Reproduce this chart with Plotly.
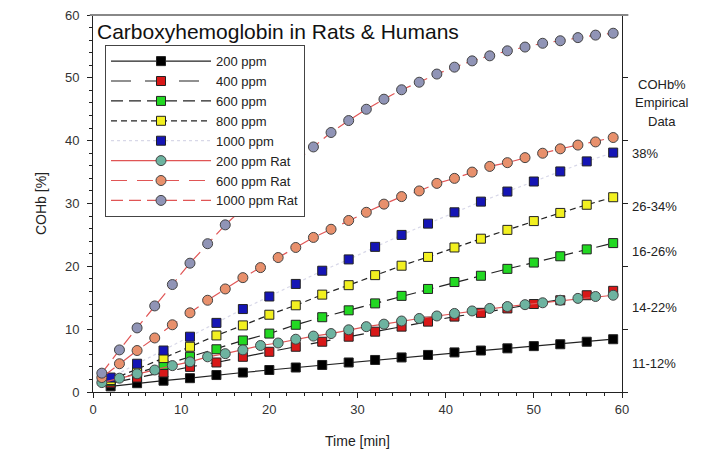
import plotly.graph_objects as go

# ---------------- data ----------------
t_human = [2, 5, 8, 11, 14, 17, 20, 23, 26, 29, 32, 35, 38, 41, 44, 47, 50, 53, 56, 59]
t_rat = list(range(1, 60, 2))

ppm200 = [0.9, 1.4, 1.8, 2.2, 2.7, 3.1, 3.5, 3.9, 4.3, 4.7, 5.1, 5.5, 5.9, 6.3, 6.6, 6.95, 7.3, 7.6, 8.0, 8.4]
ppm400 = [1.4, 2.3, 3.1, 4.0, 4.7, 5.6, 6.4, 7.2, 8.0, 8.8, 9.6, 10.4, 11.2, 12.0, 12.6, 13.3, 14.0, 14.6, 15.4, 16.1]
ppm600 = [1.7, 3.0, 4.3, 5.6, 6.8, 8.2, 9.3, 10.7, 11.9, 13.0, 14.1, 15.3, 16.4, 17.5, 18.5, 19.6, 20.6, 21.6, 22.7, 23.7]
ppm800 = [1.9, 3.6, 5.4, 7.2, 9.0, 10.6, 12.3, 13.8, 15.5, 17.0, 18.6, 20.1, 21.5, 23.0, 24.4, 25.8, 27.2, 28.5, 29.8, 31.0]
ppm1000 = [2.3, 4.5, 6.6, 8.8, 11.0, 13.2, 15.2, 17.2, 19.3, 21.1, 23.1, 25.0, 26.8, 28.6, 30.3, 31.9, 33.5, 35.1, 36.7, 38.1]

rat200 = [1.5, 2.2, 2.9, 3.5, 4.2, 4.8, 5.6, 6.1, 6.7, 7.4, 7.8, 8.4, 8.9, 9.3, 9.9,
          10.4, 10.8, 11.3, 11.7, 12.1, 12.5, 12.9, 13.3, 13.6, 13.9, 14.2, 14.6, 14.9, 15.2, 15.4]
rat600 = [2.3, 4.5, 6.6, 8.6, 10.7, 12.6, 14.6, 16.4, 18.2, 19.8, 21.4, 23.0, 24.6, 25.9, 27.3,
          28.6, 29.9, 31.1, 32.0, 33.2, 34.0, 35.0, 35.9, 36.5, 37.3, 38.0, 38.7, 39.3, 39.8, 40.5]
rat1000 = [3.0, 6.7, 10.2, 13.7, 17.1, 20.5, 23.6, 26.6, 29.2, 31.8, 34.3, 36.7, 39.0, 41.3, 43.2,
           45.0, 46.6, 48.1, 49.3, 50.6, 51.7, 52.7, 53.5, 54.3, 54.9, 55.5, 55.9, 56.4, 56.8, 57.1]

empirical_header = ["COHb%", "Empirical", "Data"]
empirical_header_y = [49.0, 46.0, 43.0]
empirical_labels = ["38%", "26-34%", "16-26%", "14-22%", "11-12%"]
empirical_y = [38.0, 29.5, 22.3, 13.4, 4.6]

x_ticks = [0, 10, 20, 30, 40, 50, 60]
y_ticks = [0, 10, 20, 30, 40, 50, 60]

FONT = "Arial, Liberation Sans, sans-serif"

fig = go.Figure()

def human(name, y, fill, dash, lcolor="#222222"):
    fig.add_trace(go.Scatter(
        x=t_human, y=y, name=name, mode="lines+markers",
        line=dict(color=lcolor, width=1.2, dash=dash),
        marker=dict(symbol="square", size=9, color=fill,
                    line=dict(color="#222222", width=1)),
    ))

def rat(name, y, fill, dash):
    fig.add_trace(go.Scatter(
        x=t_rat, y=y, name=name, mode="lines+markers",
        line=dict(color="#e05555", width=1.2, dash=dash),
        marker=dict(symbol="circle", size=10, color=fill,
                    line=dict(color="#444444", width=1)),
    ))

human("200 ppm", ppm200, "#000000", "solid")
human("400 ppm", ppm400, "#d81818", "20px,14px")
human("600 ppm", ppm600, "#22d822", "12px,6px")
human("800 ppm", ppm800, "#f2f020", "6px,4px")
human("1000 ppm", ppm1000, "#1515b5", "dot", lcolor="#d8d8e8")
rat("200 ppm Rat", rat200, "#6db3a0", "solid")
rat("600 ppm Rat", rat600, "#e8906c", "16px,10px")
rat("1000 ppm Rat", rat1000, "#9094b6", "12px,6px")

# invisible trace to carry the right-hand axis
fig.add_trace(go.Scatter(x=[0], y=[0], yaxis="y2", mode="markers",
                         marker=dict(opacity=0), showlegend=False, hoverinfo="skip"))

annotations = [
    dict(text="Carboxyhemoglobin in Rats & Humans", xref="paper", yref="paper",
         x=0.004, y=0.993, xanchor="left", yanchor="top", showarrow=False,
         font=dict(family=FONT, size=21, color="#111111")),
]
for lab, yv in zip(empirical_header, empirical_header_y):
    annotations.append(dict(text=lab, xref="paper", yref="y", x=1.075, y=yv,
                            xanchor="center", yanchor="middle", showarrow=False,
                            font=dict(family=FONT, size=13, color="#222222")))
for lab, yv in zip(empirical_labels, empirical_y):
    annotations.append(dict(text=lab, xref="paper", yref="y", x=1.015, y=yv,
                            xanchor="left", yanchor="middle", showarrow=False,
                            font=dict(family=FONT, size=13, color="#222222")))

fig.update_layout(
    width=706, height=456,
    margin=dict(l=85, r=92, t=7, b=72),
    paper_bgcolor="white", plot_bgcolor="white",
    font=dict(family=FONT, size=13, color="#333333"),
    showlegend=True,
    legend=dict(x=0.0227, y=0.92, xanchor="left", yanchor="top",
                bgcolor="white", bordercolor="#444444", borderwidth=1,
                font=dict(family=FONT, size=13, color="#222222"),
                itemwidth=100, tracegroupgap=0),
    xaxis=dict(range=[0, 60], tickvals=x_ticks, ticks="outside", ticklen=5,
               tickcolor="#222", showline=True, linecolor="#222", linewidth=1,
               showgrid=False, zeroline=False, automargin=False,
               ticklabeloverflow="allow",
               minor=dict(dtick=2, ticks="outside", ticklen=3, tickcolor="#222"),
               title=dict(text="Time [min]", font=dict(family=FONT, size=14, color="#222"),
                          standoff=20),
               tickfont=dict(family=FONT, size=13, color="#333")),
    yaxis=dict(range=[0, 60], tickvals=y_ticks, ticks="outside", ticklen=5,
               tickcolor="#222", showline=True, linecolor="#222", linewidth=1,
               showgrid=False, zeroline=False, automargin=False,
               ticklabelstandoff=5, ticklabeloverflow="allow",
               minor=dict(dtick=2, ticks="outside", ticklen=3, tickcolor="#222"),
               title=dict(text="COHb [%]", font=dict(family=FONT, size=14, color="#222"),
                          standoff=15),
               tickfont=dict(family=FONT, size=13, color="#333")),
    yaxis2=dict(range=[0, 60], overlaying="y", side="right", tickvals=y_ticks,
                ticks="outside", ticklen=5, tickcolor="#222", showticklabels=False,
                showline=True, linecolor="#222", linewidth=1, showgrid=False,
                zeroline=False, automargin=False),
    annotations=annotations,
    shapes=[dict(type="line", xref="paper", yref="paper", x0=-0.006, x1=1.012, y0=1, y1=1,
                 line=dict(color="#888888", width=2))],
)

fig.write_html("out.html")
